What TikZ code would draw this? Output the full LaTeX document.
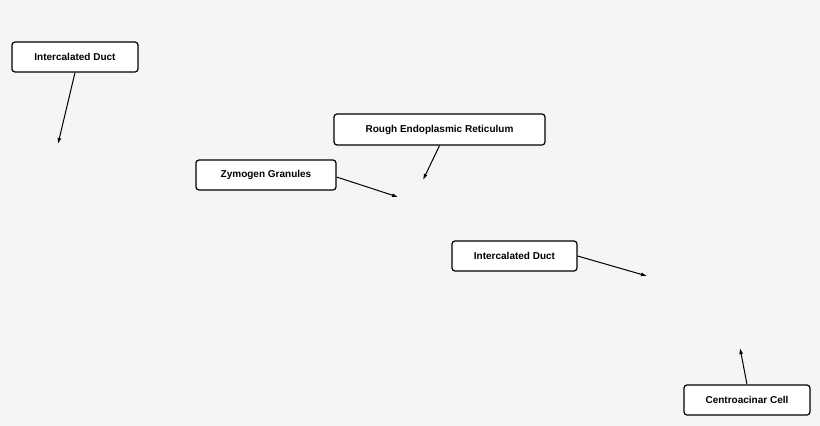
\documentclass[tikz,border=0pt]{standalone}
\usepackage{fontspec}
\setmainfont{Liberation Sans}
\usetikzlibrary{arrows.meta}
\begin{document}
\begin{tikzpicture}[x=1pt,y=-1pt,
  lbl/.style={draw=black,line width=1.2pt,rounded corners=3pt,fill=white,inner sep=0pt,minimum height=30pt,font=\fontsize{10}{12}\selectfont\bfseries},
  arr/.style={line width=1pt,-{Latex[length=6pt,width=4pt]}}]
\fill[fill={rgb,255:red,245;green,245;blue,245}] (0,0) rectangle (820,426);
\useasboundingbox (0,0) rectangle (820,426);
\node[lbl,minimum width=126pt] (a) at (75,57) {Intercalated Duct};
\node[lbl,minimum width=211pt,minimum height=31pt] (b) at (439.5,129.5) {Rough Endoplasmic Reticulum};
\node[lbl,minimum width=140pt] (c) at (266,175) {Zymogen Granules};
\node[lbl,minimum width=125pt] (d) at (514.5,256) {Intercalated Duct};
\node[lbl,minimum width=126pt] (e) at (747,400) {Centroacinar Cell};
\coordinate (ta) at (58,144);
\coordinate (tb) at (423,180);
\coordinate (tc) at (398,197);
\coordinate (td) at (647,276);
\coordinate (te) at (740,348);
\draw[arr] (a.south) ++(0,0) -- (ta);
\draw[arr] (b.south) -- (tb);
\draw[arr] (c.east) ++(0,2) -- (tc);
\draw[arr] (d.east) -- (td);
\draw[arr] (e.north) -- (te);
\end{tikzpicture}
\end{document}
